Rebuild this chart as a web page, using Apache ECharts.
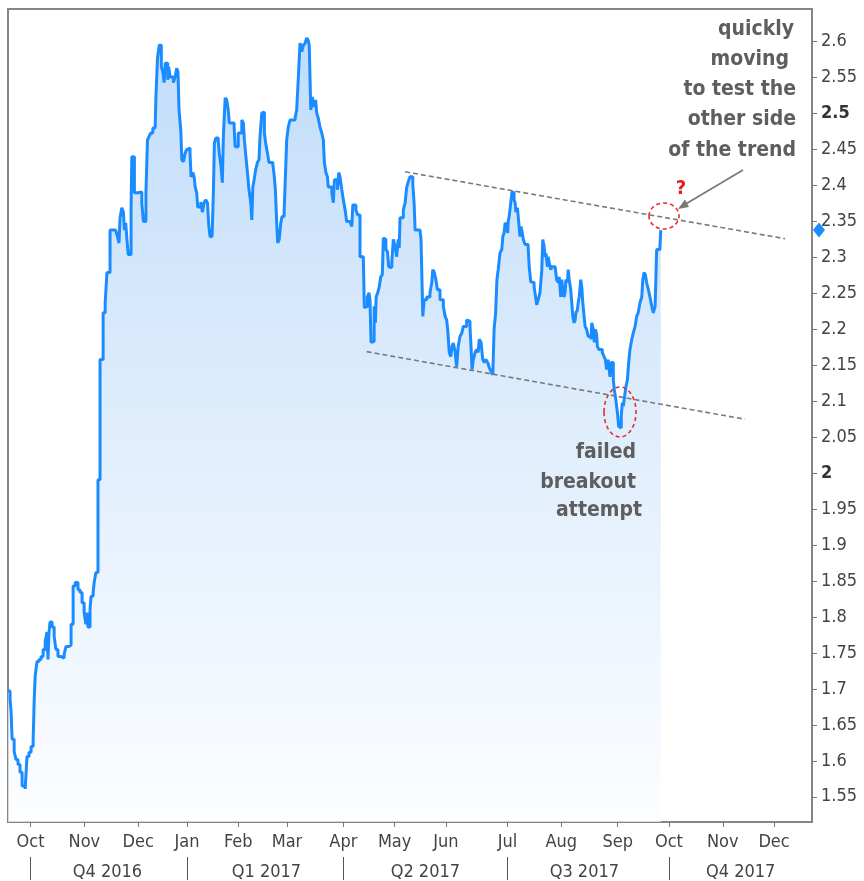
<!DOCTYPE html>
<html>
<head>
<meta charset="utf-8">
<script src="https://cdn.jsdelivr.net/npm/echarts@6/dist/echarts.min.js"></script>
<style>
  html, body { margin: 0; padding: 0; background: #ffffff; }
  #chart { width: 864px; height: 881px; }
</style>
</head>
<body>
<div id="chart"></div>
<script>
// x = trading-session index counted from the first session of Oct 2016
const sessionIdx = [
  -8.8,-8.0,-7.6,-7.2,-6.4,-5.7,-4.9,-4.1,-3.3,-2.1,-1.4,-0.6,0.2,1.0,1.4,1.8,2.5,3.3,4.1,4.9,
  5.7,6.4,6.8,7.2,7.6,8.4,9.2,9.9,10.7,11.9,13.1,13.8,15.0,15.8,16.6,17.4,18.5,19.3,20.1,20.9,
  21.6,22.0,22.4,23.2,23.6,24.4,24.8,25.5,26.3,27.1,28.3,29.1,29.8,31.0,32.2,33.2,33.9,34.5,34.9,35.6,
  36.2,36.6,37.1,37.5,38.1,39.2,39.5,40.5,41.9,43.4,44.0,45.0,45.6,46.2,46.9,47.7,48.6,48.9,49.5,50.2,
  51.0,51.6,52.1,52.5,53.5,53.9,54.4,55.7,56.4,57.0,57.5,57.9,58.6,59.0,59.6,60.3,60.9,61.5,62.2,62.6,
  63.3,63.8,64.2,64.8,65.2,66.4,67.0,67.7,68.3,69.0,69.5,70.0,70.8,71.3,71.7,72.3,73.2,73.6,74.3,74.8,
  75.2,75.9,76.5,77.1,77.5,79.4,79.8,80.4,81.0,81.7,82.4,83.0,83.4,84.0,84.6,85.2,85.9,86.3,86.7,87.2,
  87.8,88.5,89.1,89.5,90.2,90.8,91.2,91.7,92.4,93.0,94.5,95.0,95.5,96.0,96.4,97.0,97.6,98.1,98.9,99.4,
  99.9,100.5,101.2,103.2,103.8,104.4,105.1,105.8,106.4,107.1,107.7,108.3,108.7,109.3,109.9,110.6,111.2,111.6,112.2,112.9,
  113.6,114.2,114.6,115.2,115.8,116.1,117.5,118.1,118.5,119.7,120.2,120.7,121.4,122.0,122.7,123.3,124.6,125.3,125.7,126.9,
  127.6,128.5,129.8,130.2,130.8,131.4,132.0,132.4,132.8,133.5,134.0,134.5,134.8,135.4,136.0,136.6,137.2,137.6,138.3,138.6,
  139.2,139.7,140.2,140.9,141.5,142.2,142.8,143.4,143.8,144.1,145.4,146.1,146.7,147.3,148.0,148.7,149.1,149.6,150.0,151.9,
  152.3,153.0,153.5,154.5,155.8,156.5,156.9,157.5,158.1,158.7,159.7,161.0,161.7,162.3,162.7,163.3,163.9,164.4,164.9,165.6,
  166.2,166.8,167.5,168.2,168.8,170.1,170.7,171.4,171.8,172.2,172.7,173.4,174.0,174.6,175.0,175.7,176.4,177.0,177.6,178.3,
  178.9,179.6,180.3,180.8,181.4,181.9,182.4,183.1,183.8,184.2,184.7,185.1,185.7,186.1,186.3,186.7,187.3,187.8,188.3,188.6,
  189.0,189.3,189.9,190.2,190.9,191.3,191.8,192.2,192.9,194.1,194.5,195.1,195.7,196.4,197.0,197.4,198.0,198.7,199.4,199.8,
  200.3,200.7,201.0,201.6,201.9,202.3,202.9,203.3,204.6,205.2,205.8,206.2,206.8,207.2,207.6,208.1,208.5,208.8,209.4,209.7,
  210.1,210.7,211.1,211.5,212.0,212.4,212.7,213.3,213.6,214.0,214.6,215.0,215.4,215.9,216.3,216.9,217.5,218.6,218.9,219.5,
  219.9,220.3,220.8,221.1,221.7,223.0,223.7,224.2,224.7,225.3,226.0,226.5,226.9,227.3,227.7,228.3,228.9,229.4,229.9,230.4,
  230.8,231.2,231.7,232.2,232.8,233.3,233.8,234.5,235.1,235.8,236.4,237.0,237.7,238.4,238.8,239.3,239.8,240.3,241.0,241.6,
  242.3,242.9,243.6,244.0,244.2,245.5,245.8
];
const yields = [
  1.697,1.686,1.669,1.630,1.613,1.602,1.595,1.584,1.565,1.561,1.606,1.612,1.620,1.627,1.683,1.718,1.738,1.741,1.745,1.755,
  1.766,1.779,1.741,1.779,1.793,1.786,1.773,1.755,1.745,1.743,1.748,1.759,1.761,1.790,1.843,1.848,1.838,1.834,1.820,1.806,
  1.790,1.806,1.786,1.811,1.829,1.834,1.848,1.862,1.991,2.158,2.223,2.237,2.279,2.338,2.338,2.340,2.329,2.320,2.355,2.369,
  2.363,2.338,2.348,2.329,2.304,2.366,2.440,2.390,2.391,2.376,2.350,2.390,2.463,2.468,2.473,2.480,2.481,2.523,2.577,2.595,
  2.565,2.558,2.543,2.570,2.547,2.565,2.551,2.543,2.551,2.563,2.558,2.505,2.477,2.436,2.433,2.445,2.450,2.452,2.445,2.412,
  2.418,2.412,2.398,2.390,2.370,2.377,2.363,2.376,2.380,2.376,2.345,2.329,2.327,2.390,2.459,2.466,2.463,2.445,2.426,2.404,
  2.468,2.522,2.519,2.505,2.487,2.481,2.454,2.454,2.473,2.473,2.491,2.487,2.463,2.440,2.418,2.394,2.376,2.352,2.398,2.408,
  2.422,2.432,2.436,2.468,2.501,2.502,2.473,2.459,2.445,2.432,2.429,2.415,2.394,2.348,2.320,2.325,2.348,2.357,2.364,2.412,
  2.463,2.481,2.491,2.494,2.505,2.547,2.598,2.586,2.595,2.598,2.605,2.602,2.595,2.505,2.523,2.509,2.519,2.501,2.494,2.481,
  2.473,2.463,2.432,2.418,2.412,2.398,2.390,2.376,2.408,2.394,2.418,2.412,2.394,2.380,2.366,2.350,2.348,2.343,2.373,2.366,
  2.359,2.301,2.297,2.230,2.232,2.245,2.251,2.241,2.182,2.183,2.232,2.209,2.245,2.251,2.259,2.273,2.276,2.327,2.325,2.311,
  2.308,2.287,2.286,2.293,2.325,2.315,2.301,2.325,2.313,2.355,2.366,2.376,2.397,2.405,2.412,2.412,2.401,2.376,2.338,2.336,
  2.325,2.218,2.241,2.245,2.251,2.265,2.283,2.279,2.269,2.255,2.241,2.232,2.218,2.213,2.200,2.168,2.162,2.176,2.181,2.169,
  2.148,2.176,2.190,2.195,2.204,2.213,2.211,2.204,2.176,2.144,2.158,2.168,2.172,2.168,2.186,2.182,2.158,2.154,2.158,2.154,
  2.147,2.141,2.137,2.200,2.223,2.269,2.283,2.306,2.311,2.329,2.334,2.348,2.345,2.334,2.350,2.357,2.376,2.391,2.390,2.380,
  2.376,2.363,2.369,2.357,2.329,2.343,2.334,2.325,2.318,2.313,2.287,2.266,2.265,2.259,2.245,2.234,2.241,2.251,2.283,2.325,
  2.315,2.301,2.306,2.287,2.301,2.293,2.283,2.287,2.287,2.269,2.265,2.273,2.245,2.269,2.255,2.245,2.252,2.269,2.265,2.283,
  2.269,2.255,2.237,2.218,2.209,2.213,2.223,2.227,2.237,2.245,2.269,2.259,2.237,2.218,2.204,2.200,2.190,2.186,2.209,2.200,
  2.182,2.200,2.193,2.176,2.172,2.168,2.162,2.158,2.144,2.158,2.134,2.154,2.154,2.130,2.116,2.102,2.084,2.065,2.063,2.079,
  2.098,2.093,2.107,2.120,2.130,2.154,2.172,2.186,2.195,2.204,2.218,2.223,2.237,2.245,2.269,2.279,2.276,2.265,2.255,2.245,
  2.232,2.223,2.232,2.283,2.311,2.315,2.338
];

const monthTicks = [0, 21, 42, 61, 81, 100, 122, 142, 162, 186, 207, 229, 249, 270, 290];
const monthNames = ['Oct','Nov','Dec','Jan','Feb','Mar','Apr','May','Jun','Jul','Aug','Sep','Oct','Nov','Dec'];
const quarterBounds = [0, 61, 122, 186, 249];
const quarterCenters = [30, 92, 154, 216, 277];
const quarterNames = ['Q4 2016','Q1 2017','Q2 2017','Q3 2017','Q4 2017'];
const yTicks = [1.55,1.6,1.65,1.7,1.75,1.8,1.85,1.9,1.95,2,2.05,2.1,2.15,2.2,2.25,2.3,2.35,2.4,2.45,2.5,2.55,2.6];
const boldTicks = [2, 2.5];

const upperTrendX = [146.1, 294.3];
const upperTrendY = [2.419, 2.326];
const lowerTrendX = [131.1, 278.7];
const lowerTrendY = [2.169, 2.075];

const X_MIN = -8.8, X_MAX = 304.8;
const Y_MIN = 1.515, Y_MAX = 2.6454;

const FONT = "'DejaVu Sans Condensed','Liberation Sans Narrow','DejaVu Sans',sans-serif";

const lineData = sessionIdx.map((s, i) => [s, yields[i]]);
const lastVal = yields[yields.length - 1];

const chart = echarts.init(document.getElementById('chart'), null, { renderer: 'canvas' });

const annoText = (txt, x, y, color, size, align) => ({
  type: 'text', silent: true, z: 100,
  style: { text: txt, x: x, y: y, fill: color, fontSize: size, fontWeight: 'bold',
           fontFamily: FONT, align: align || 'right', verticalAlign: 'middle' }
});

const option = {
  animation: false,
  backgroundColor: '#ffffff',
  textStyle: { fontFamily: FONT },
  grid: { left: 8, right: 52, top: 9, bottom: 58, show: true, borderColor: '#858585', borderWidth: 2, backgroundColor: 'transparent' },
  xAxis: [
    {
      type: 'value', min: X_MIN, max: X_MAX, position: 'bottom',
      axisLine: { show: false, onZero: false }, splitLine: { show: false },
      axisTick: { show: true, customValues: monthTicks, length: 5, lineStyle: { color: '#777', width: 1 } },
      axisLabel: { show: true, customValues: monthTicks, margin: 11, fontSize: 18, color: '#444',
        formatter: v => monthNames[monthTicks.indexOf(v)] }
    },
    {
      type: 'value', min: X_MIN, max: X_MAX, position: 'bottom', offset: 35,
      axisLine: { show: false, onZero: false }, splitLine: { show: false },
      axisTick: { show: true, customValues: quarterBounds, length: 23, lineStyle: { color: '#555', width: 1 } },
      axisLabel: { show: true, customValues: quarterCenters, margin: 6, fontSize: 18, color: '#444',
        formatter: v => quarterNames[quarterCenters.indexOf(v)] }
    }
  ],
  yAxis: {
    type: 'value', position: 'right', min: Y_MIN, max: Y_MAX,
    axisLine: { show: false, onZero: false }, splitLine: { show: false },
    axisTick: { show: true, customValues: yTicks, length: 5, lineStyle: { color: '#777', width: 1 } },
    axisLabel: {
      show: true, customValues: yTicks, margin: 9, fontSize: 18, color: '#444',
      formatter: v => boldTicks.indexOf(v) >= 0 ? '{b|' + v + '}' : String(v),
      rich: { b: { fontWeight: 'bold', fontSize: 18, color: '#333', fontFamily: FONT } }
    }
  },
  series: [
    {
      type: 'line', name: 'yield', data: lineData, step: 'end', symbol: 'none',
      lineStyle: { color: '#1a8cff', width: 3 },
      areaStyle: {
        origin: 'start',
        color: { type: 'linear', x: 0, y: 0, x2: 0, y2: 1,
          colorStops: [ { offset: 0, color: '#a6cef8' }, { offset: 0.5, color: '#d2e6fb' }, { offset: 1, color: '#fbfdff' } ] }
      },
      z: 3,
      markPoint: {
        silent: true, symbol: 'diamond', symbolSize: [12, 15], symbolOffset: [7, 0],
        itemStyle: { color: '#1a8cff' }, label: { show: false },
        data: [ { coord: [X_MAX, lastVal] } ]
      }
    },
    {
      type: 'line', name: 'upper', data: upperTrendX.map((x, i) => [x, upperTrendY[i]]),
      symbol: 'none', silent: true, z: 4,
      lineStyle: { color: '#7a7a7a', width: 1.6, type: [5, 3] }
    },
    {
      type: 'line', name: 'lower', data: lowerTrendX.map((x, i) => [x, lowerTrendY[i]]),
      symbol: 'none', silent: true, z: 4,
      lineStyle: { color: '#7a7a7a', width: 1.6, type: [5, 3] }
    }
  ],
  graphic: [
    annoText('quickly', 794, 30, '#5e5e5e', 21),
    annoText('moving', 789, 60, '#5e5e5e', 21),
    annoText('to test the', 796, 90, '#5e5e5e', 21),
    annoText('other side', 796, 120, '#5e5e5e', 21),
    annoText('of the trend', 796, 151, '#5e5e5e', 21),
    annoText('failed', 636, 453, '#5e5e5e', 21),
    annoText('breakout', 636, 483, '#5e5e5e', 21),
    annoText('attempt', 642, 511, '#5e5e5e', 21),
    annoText('?', 681, 189, '#e02020', 20, 'center'),
    { type: 'ellipse', silent: true, z: 101,
      shape: { cx: 664, cy: 216, rx: 15, ry: 13 },
      style: { fill: 'none', stroke: '#e03030', lineWidth: 1.6, lineDash: [4, 3] } },
    { type: 'ellipse', silent: true, z: 101,
      shape: { cx: 620, cy: 412, rx: 16, ry: 25 },
      style: { fill: 'none', stroke: '#e03030', lineWidth: 1.6, lineDash: [4, 3] } },
    { type: 'line', silent: true, z: 101,
      shape: { x1: 743, y1: 170, x2: 684, y2: 205 },
      style: { stroke: '#777', lineWidth: 1.6 } },
    { type: 'polygon', silent: true, z: 101,
      shape: { points: [[678, 209], [689, 207], [685, 199.5]] },
      style: { fill: '#777' } }
  ]
};

chart.setOption(option);
</script>
</body>
</html>
